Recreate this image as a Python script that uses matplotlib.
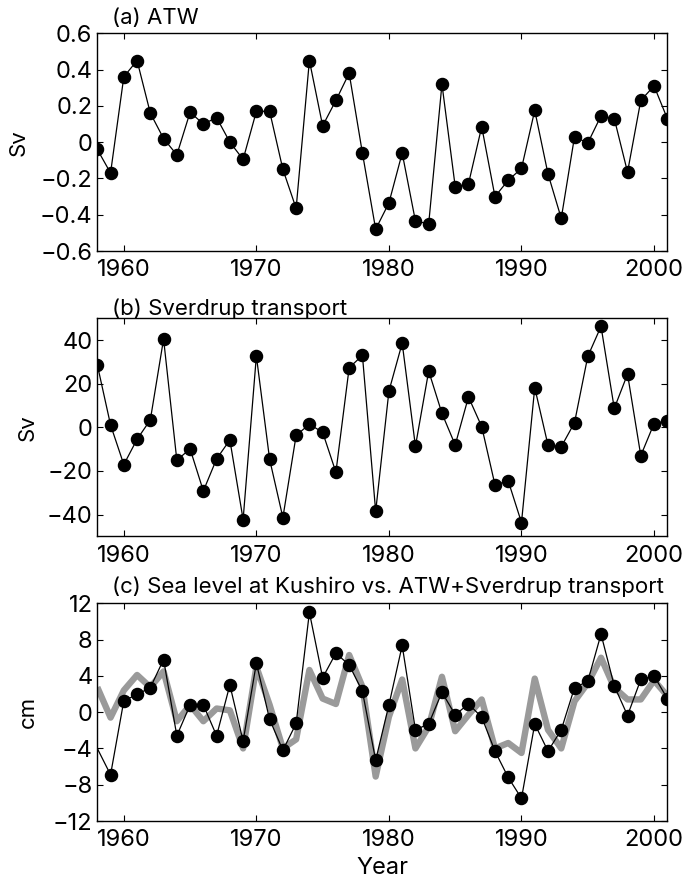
import matplotlib
matplotlib.use('Agg')
import matplotlib.pyplot as plt

plt.rcParams['font.family'] = ['Inter', 'DejaVu Sans']

# ---------------- data ----------------
years = list(range(1958, 2002))

atw = [-0.04, -0.17, 0.36, 0.45, 0.16, 0.02, -0.07, 0.165, 0.10, 0.135,
       0.0, -0.095, 0.17, 0.17, -0.15, -0.365, 0.45, 0.09, 0.23, 0.38,
       -0.06, -0.48, -0.335, -0.06, -0.435, -0.45, 0.32, -0.245, -0.23, 0.085,
       -0.30, -0.21, -0.145, 0.175, -0.175, -0.42, 0.03, -0.005, 0.145, 0.13,
       -0.165, 0.23, 0.31, 0.13]

sverdrup = [28.7, 1.1, -17.1, -5.5, 3.4, 40.5, -15.1, -9.9, -29.2, -14.5,
            -5.8, -42.3, 32.7, -14.7, -41.4, -3.7, 1.4, -2.3, -20.6, 27.3,
            33.0, -38.6, 16.6, 38.6, -8.7, 25.8, 6.4, -8.1, 13.9, 0.3,
            -26.4, -24.6, -43.7, 18.2, -8.2, -8.9, 2.1, 32.5, 46.3, 8.7,
            24.4, -13.0, 1.7, 3.1]

sea_years = [1957] + list(range(1959, 2002))
sea_level = [-1.1, -6.9, 1.25, 1.95, 2.7, 5.8, -2.6, 0.8, 0.8, -2.6,
             3.0, -3.2, 5.4, -0.8, -4.2, -1.25, 11.0, 3.8, 6.5, 5.2,
             2.3, -5.3, 0.8, 7.35, -1.95, -1.3, 2.2, -0.3, 0.9, -0.55,
             -4.3, -7.2, -9.5, -1.3, -4.3, -1.95, 2.7, 3.4, 8.6, 2.9,
             -0.37, 3.6, 4.0, 1.5]

atw_plus_sverdrup = [2.75, -0.6, 2.4, 4.1, 2.75, 4.5, -1.0, 0.8, -1.0, 0.4,
                     0.2, -4.0, 5.0, 0.8, -4.0, -3.0, 4.65, 1.5, 0.9, 6.3,
                     2.8, -7.1, -0.5, 3.6, -4.0, -1.6, 3.9, -2.1, -0.3, 1.4,
                     -4.0, -3.4, -4.5, 3.7, -1.95, -4.0, 1.2, 3.2, 6.0, 2.7,
                     1.4, 1.4, 3.5, 1.8]

xticks = [1960, 1970, 1980, 1990, 2000]
xticklabels = ['1960', '1970', '1980', '1990', '2000']
a_ticks = [-0.6, -0.4, -0.2, 0, 0.2, 0.4, 0.6]
a_labels = ['\u22120.6', '\u22120.4', '\u22120.2', '0', '0.2', '0.4', '0.6']
b_ticks = [-40, -20, 0, 20, 40]
b_labels = ['\u221240', '\u221220', '0', '20', '40']
c_ticks = [-12, -8, -4, 0, 4, 8, 12]
c_labels = ['\u221212', '\u22128', '\u22124', '0', '4', '8', '12']

titles = ['(a) ATW', '(b) Sverdrup transport',
          '(c) Sea level at Kushiro vs. ATW+Sverdrup transport']

# ---------------- figure ----------------
W, H = 686, 883
fig = plt.figure(figsize=(W / 100, H / 100), dpi=100)

def px_axes(left, top, right, bottom):
    return fig.add_axes([left / W, 1 - bottom / H, (right - left) / W, (bottom - top) / H])

ax_a = px_axes(97.3, 33.3, 667.3, 251.0)
ax_b = px_axes(97.3, 318.3, 667.3, 536.3)
ax_c = px_axes(97.3, 603.3, 667.3, 821.0)

TICK_FS = 17
LABEL_FS = 16
XLABEL_FS = 17
TITLE_FS = 16

line_kw = dict(color='black', lw=0.9, marker='o', markersize=8.7,
               markerfacecolor='black', markeredgecolor='black')

ax_a.plot(years, atw, **line_kw)
ax_b.plot(years, sverdrup, **line_kw)
ax_c.plot(years, atw_plus_sverdrup, color='#9a9a9a', lw=4.6,
          solid_joinstyle='round', solid_capstyle='butt')
ax_c.plot(sea_years, sea_level, **line_kw)

for ax, yt, yl, lim in [(ax_a, a_ticks, a_labels, (-0.6, 0.6)),
                        (ax_b, b_ticks, b_labels, (-50, 50)),
                        (ax_c, c_ticks, c_labels, (-12, 12))]:
    ax.set_xlim(1958, 2001)
    ax.set_ylim(*lim)
    ax.set_xticks(xticks)
    ax.set_xticklabels(xticklabels)
    ax.set_yticks(yt)
    ax.set_yticklabels(yl)
    ax.tick_params(direction='in', length=4, width=0.8, top=True, right=True,
                   labelsize=TICK_FS)
    ax.tick_params(axis='x', pad=6)
    ax.tick_params(axis='y', pad=3.5)
    for s in ax.spines.values():
        s.set_linewidth(1.0)

ax_a.set_ylabel('Sv', fontsize=LABEL_FS)
ax_b.set_ylabel('Sv', fontsize=LABEL_FS)
ax_c.set_ylabel('cm', fontsize=LABEL_FS)
ax_a.yaxis.set_label_coords(-0.121, 0.5)
ax_b.yaxis.set_label_coords(-0.104, 0.5)
ax_c.yaxis.set_label_coords(-0.104, 0.5)
ax_c.set_xlabel('Year', fontsize=XLABEL_FS, labelpad=4)

for ax, t, yb in [(ax_a, titles[0], 1.0427), (ax_b, titles[1], 1.015), (ax_c, titles[2], 1.047)]:
    ax.text(0.026, yb, t, transform=ax.transAxes, ha='left', va='baseline',
            fontsize=TITLE_FS)

fig.savefig('out.png', dpi=100)
